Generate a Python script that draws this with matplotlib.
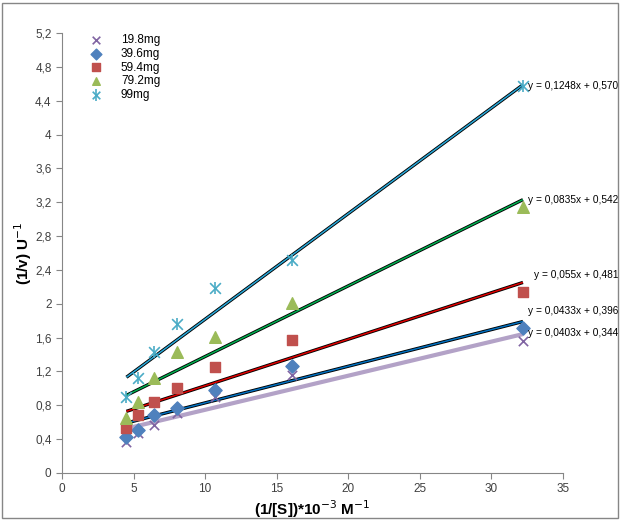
import matplotlib
matplotlib.use("Agg")
import matplotlib.pyplot as plt
from matplotlib.legend_handler import HandlerTuple
from matplotlib.patches import Rectangle
import numpy as np

plt.rcParams["font.family"] = ["Liberation Sans", "DejaVu Sans"]

# 1/[S] values (x 10^-3 M^-1)
inv_s = [4.5, 5.3, 6.4, 8.0, 10.7, 16.1, 32.2]

labels = ["19.8mg", "39.6mg", "59.4mg", "79.2mg", "99mg"]
y_198 = [0.37, 0.47, 0.57, 0.71, 0.90, 1.16, 1.56]
y_396 = [0.43, 0.51, 0.68, 0.77, 0.98, 1.26, 1.71]
y_594 = [0.53, 0.68, 0.84, 1.00, 1.25, 1.57, 2.14]
y_792 = [0.65, 0.84, 1.12, 1.43, 1.61, 2.01, 3.14]
y_99 = [0.90, 1.12, 1.43, 1.76, 2.19, 2.52, 4.57]

# trend line coefficients as printed on the chart
slopes = [0.0403, 0.0433, 0.055, 0.0835, 0.1248]
intercepts = [0.344, 0.396, 0.481, 0.542, 0.570]
eq_text = ["y = 0,0403x + 0,344", "y = 0,0433x + 0,396", "y = 0,055x + 0,481",
           "y = 0,0835x + 0,542", "y = 0,1248x + 0,570"]

mk_colors = ["#8064a2", "#4f81bd", "#c0504d", "#9bbb59", "#4bacc6"]
line_colors = ["#b3a2c7", "#0070c0", "#e00000", "#00b050", "#2aa8d8"]

fig = plt.figure(figsize=(6.22, 5.20), dpi=100)
ax = fig.add_axes([0.0997, 0.0904, 0.8055, 0.8461])

xs = np.array([inv_s[0], inv_s[-1]])
for i in range(5):
    ys = slopes[i] * xs + intercepts[i]
    if i == 0:
        ax.plot(xs, ys, color=line_colors[i], lw=3, solid_capstyle="butt", zorder=2)
    else:
        ax.plot(xs, ys, color="black", lw=2.4, solid_capstyle="butt", zorder=2)
        ax.plot(xs, ys, color=line_colors[i], lw=1.1, solid_capstyle="butt", zorder=2)

handles = []
h = ax.scatter(inv_s, y_198, marker="x", s=45, color=mk_colors[0], lw=1.2, zorder=3)
handles.append(h)
h = ax.scatter(inv_s, y_396, marker="D", s=45, color=mk_colors[1], zorder=3)
handles.append(h)
h = ax.scatter(inv_s, y_594, marker="s", s=50, color=mk_colors[2], zorder=3)
handles.append(h)
h = ax.scatter(inv_s, y_792, marker="^", s=70, color=mk_colors[3], zorder=3)
handles.append(h)
h1 = ax.scatter(inv_s, y_99, marker="x", s=60, color=mk_colors[4], lw=1.2, zorder=3)
h2 = ax.scatter(inv_s, y_99, marker="|", s=80, color=mk_colors[4], lw=1.2, zorder=3)
handles.append((h1, h2))

leg = ax.legend(handles, labels, loc="upper left", bbox_to_anchor=(0.035, 1.022),
                frameon=False, fontsize=8.5, handlelength=1.0, handletextpad=1.6,
                labelspacing=0.15, scatterpoints=1,
                handler_map={tuple: HandlerTuple(ndivide=1, pad=0)})
for hh in leg.legend_handles:
    try:
        hh.set_sizes([30])
    except AttributeError:
        pass

eq_pos = [(32.55, 1.65), (32.55, 1.91), (33.0, 2.34), (32.55, 3.23), (32.55, 4.57)]
for i in range(5):
    ax.text(eq_pos[i][0], eq_pos[i][1], eq_text[i], fontsize=7.3, va="center",
            ha="left", clip_on=False)

ax.set_xlim(0, 35)
ax.set_ylim(0, 5.2)
ax.set_xticks(np.arange(0, 36, 5))
yt = np.round(np.arange(0, 5.21, 0.4), 1)
ax.set_yticks(yt)
ax.set_yticklabels([("%g" % v).replace(".", ",") for v in yt])
ax.tick_params(labelsize=8.5, colors="#404040", length=4, direction="out")
for s in ["top", "right"]:
    ax.spines[s].set_visible(False)
for s in ["left", "bottom"]:
    ax.spines[s].set_color("#868686")
ax.tick_params(axis="both", color="#868686")

ax.set_xlabel(r"(1/[S])*10$^{-3}$ M$^{-1}$", fontsize=11, fontweight="bold", labelpad=2)
ax.set_ylabel(r"(1/v) U$^{-1}$", fontsize=11, fontweight="bold", labelpad=1)

fig.patches.append(Rectangle((0.004, 0.004), 0.99, 0.99, transform=fig.transFigure,
                             fill=False, edgecolor="#868686", lw=1))

fig.savefig("out.png", dpi=100)
